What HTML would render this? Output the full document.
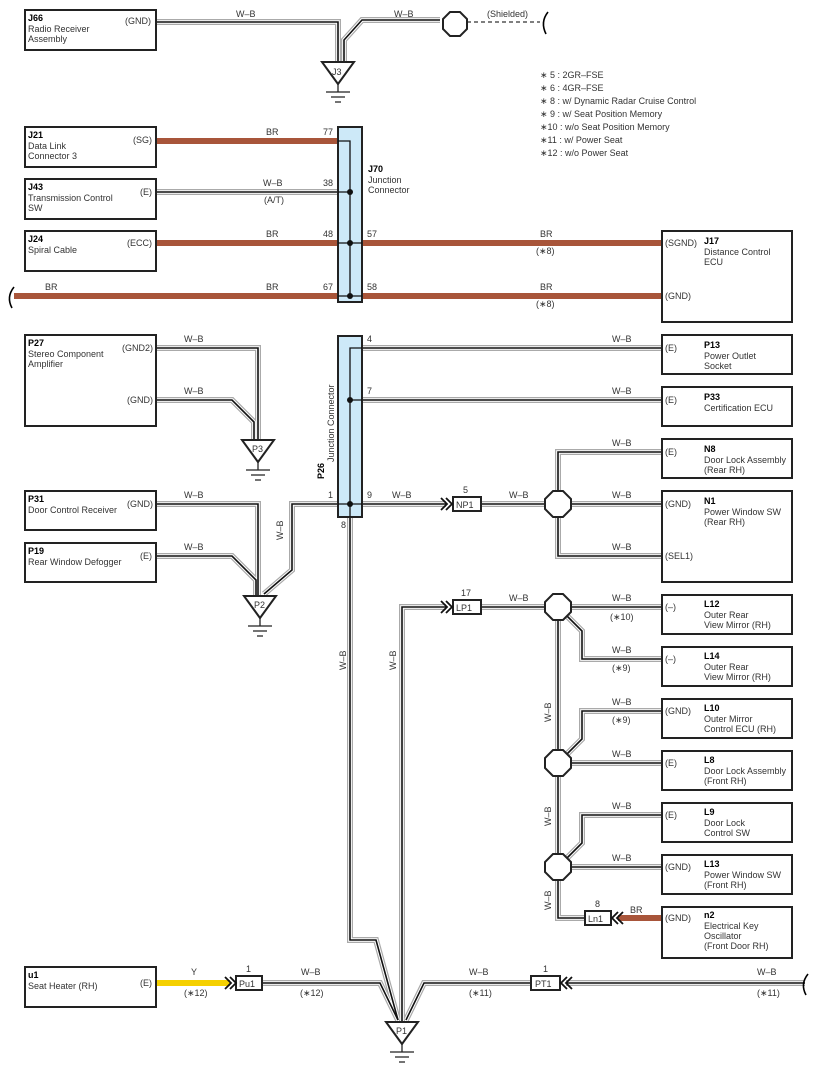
<!DOCTYPE html>
<html><head><meta charset="utf-8"><style>
html,body{margin:0;padding:0;background:#fff}
svg{display:block}
text{font-family:"Liberation Sans",sans-serif;font-size:9px;fill:#333}
.b{font-weight:bold;fill:#000}
.box{fill:#fff;stroke:#222;stroke-width:2}
</style></head><body>
<svg width="818" height="1076" viewBox="0 0 818 1076" xmlns="http://www.w3.org/2000/svg">
<defs>
<g id="wb" fill="none">
<path d="M155,22 H338 V62"/>
<path d="M440,20 H362 L344,40 V62"/>
<path d="M155,192 H338"/>
<path d="M362,348 H662"/>
<path d="M362,400 H662"/>
<path d="M362,504 H446 M481,504 H545 M571,504 H662"/>
<path d="M558,491 V452 H662 M558,517 V556 H662"/>
<path d="M155,348 H258 V440"/>
<path d="M155,400 H232 L254,422 V440"/>
<path d="M155,504 H258 V596"/>
<path d="M155,556 H232 L256,580 V596"/>
<path d="M338,504 H292 V570 L264,594"/>
<path d="M350,517 V940 H376 L398,1020"/>
<path d="M446,607 H402 V1022"/>
<path d="M481,607 H545 M571,607 H662"/>
<path d="M567,616 L582,631 V659 H662"/>
<path d="M558,620 V750 M558,776 V854 M558,880 V918 H585"/>
<path d="M567,754 L582,739 V711 H662 M571,763 H662"/>
<path d="M567,858 L582,843 V815 H662 M571,867 H662"/>
<path d="M262,983 H380 L398,1020"/>
<path d="M530,983 H424 L406,1020"/>
<path d="M566,983 H805"/>
</g>
</defs>
<use href="#wb" stroke="#aaa" stroke-width="6"/>
<use href="#wb" stroke="#fff" stroke-width="3.6"/>
<use href="#wb" stroke="#111" stroke-width="1.6"/>

<g stroke="#a8553a" stroke-width="6" fill="none">
<path d="M157,141 H338"/>
<path d="M157,243 H662"/>
<path d="M14,296 H662"/>
<path d="M618,918 H662"/>
</g>
<path d="M157,983 H230" stroke="#f5d000" stroke-width="6"/>
<g fill="none" stroke="#000" stroke-width="1.6">
<path d="M548,12 Q540,22 546,34"/>
<path d="M14,287 Q6,297 12,308"/>
<path d="M808,974 Q800,984 806,995"/>
</g>
<path d="M467,22 H540" stroke="#333" stroke-dasharray="4,3" stroke-width="1.2"/>
<text x="487" y="17">(Shielded)</text>

<g fill="#fff" stroke="#222" stroke-width="2">
<polygon points="450,12 460,12 467,19 467,29 460,36 450,36 443,29 443,19"/>
<polygon points="553,491 563,491 571,499 571,509 563,517 553,517 545,509 545,499"/>
<polygon points="553,594 563,594 571,602 571,612 563,620 553,620 545,612 545,602"/>
<polygon points="553,750 563,750 571,758 571,768 563,776 553,776 545,768 545,758"/>
<polygon points="553,854 563,854 571,862 571,872 563,880 553,880 545,872 545,862"/>
</g>

<g fill="#fff" stroke="#222" stroke-width="2">
<polygon points="322,62 354,62 338,84"/>
<polygon points="242,440 274,440 258,462"/>
<polygon points="244,596 276,596 260,618"/>
<polygon points="386,1022 418,1022 402,1044"/>
</g>
<g stroke="#222" stroke-width="1.3">
<path d="M338,84 V92 M326,92 H350 M331,97 H345 M335,102 H341"/>
<path d="M258,462 V470 M246,470 H270 M251,475 H265 M255,480 H261"/>
<path d="M260,618 V626 M248,626 H272 M253,631 H267 M257,636 H263"/>
<path d="M402,1044 V1052 M390,1052 H414 M395,1057 H409 M399,1062 H405"/>
</g>
<text x="332" y="75">J3</text><text x="252" y="452">P3</text><text x="254" y="608">P2</text><text x="396" y="1034">P1</text>

<rect x="338" y="127" width="24" height="175" fill="#cde9f8" stroke="#222" stroke-width="2"/>
<path d="M338,141 H350 V296 M338,192 H350 M338,243 H362 M338,296 H362" stroke="#111" stroke-width="1.3" fill="none"/>
<g fill="#111"><circle cx="350" cy="192" r="3"/><circle cx="350" cy="243" r="3"/><circle cx="350" cy="296" r="3"/></g>
<rect x="338" y="336" width="24" height="181" fill="#cde9f8" stroke="#222" stroke-width="2"/>
<path d="M362,348 H350 V517 M350,400 H362 M338,504 H362" stroke="#111" stroke-width="1.3" fill="none"/>
<g fill="#111"><circle cx="350" cy="400" r="3"/><circle cx="350" cy="504" r="3"/></g>

<g class="box" fill="#fff" stroke="#222" stroke-width="2">
<rect x="453" y="497" width="28" height="14"/>
<rect x="453" y="600" width="28" height="14"/>
<rect x="585" y="911" width="26" height="14"/>
<rect x="236" y="976" width="26" height="14"/>
<rect x="531" y="976" width="29" height="14"/>
</g>
<g fill="none" stroke="#111" stroke-width="1.8">
<path d="M441,498 L447,504 L441,510 M446,498 L452,504 L446,510"/>
<path d="M441,601 L447,607 L441,613 M446,601 L452,607 L446,613"/>
<path d="M618,912 L612,918 L618,924 M623,912 L617,918 L623,924"/>
<path d="M225,977 L231,983 L225,989 M230,977 L236,983 L230,989"/>
<path d="M567,977 L561,983 L567,989 M572,977 L566,983 L572,989"/>
</g>
<text x="456" y="508">NP1</text><text x="463" y="493">5</text>
<text x="456" y="611">LP1</text><text x="461" y="596">17</text>
<text x="588" y="922">Ln1</text><text x="595" y="907">8</text>
<text x="239" y="987">Pu1</text><text x="246" y="972">1</text>
<text x="535" y="987">PT1</text><text x="543" y="972">1</text>

<g class="box">
<rect x="25" y="10" width="131" height="40"/>
<rect x="25" y="127" width="131" height="40"/>
<rect x="25" y="179" width="131" height="40"/>
<rect x="25" y="231" width="131" height="40"/>
<rect x="662" y="231" width="130" height="91"/>
<rect x="25" y="335" width="131" height="91"/>
<rect x="25" y="491" width="131" height="39"/>
<rect x="25" y="543" width="131" height="39"/>
<rect x="662" y="335" width="130" height="39"/>
<rect x="662" y="387" width="130" height="39"/>
<rect x="662" y="439" width="130" height="39"/>
<rect x="662" y="491" width="130" height="91"/>
<rect x="662" y="595" width="130" height="39"/>
<rect x="662" y="647" width="130" height="39"/>
<rect x="662" y="699" width="130" height="39"/>
<rect x="662" y="751" width="130" height="39"/>
<rect x="662" y="803" width="130" height="39"/>
<rect x="662" y="855" width="130" height="39"/>
<rect x="662" y="907" width="130" height="51"/>
<rect x="25" y="967" width="131" height="40"/>
</g>

<text x="28" y="21" class="b">J66</text><text x="28" y="32">Radio Receiver</text><text x="28" y="42">Assembly</text><text x="125" y="24">(GND)</text>
<text x="28" y="138" class="b">J21</text><text x="28" y="149">Data Link</text><text x="28" y="159">Connector 3</text><text x="133" y="143">(SG)</text>
<text x="28" y="190" class="b">J43</text><text x="28" y="201">Transmission Control</text><text x="28" y="211">SW</text><text x="140" y="195">(E)</text>
<text x="28" y="242" class="b">J24</text><text x="28" y="253">Spiral Cable</text><text x="127" y="246">(ECC)</text>
<text x="28" y="346" class="b">P27</text><text x="28" y="357">Stereo Component</text><text x="28" y="367">Amplifier</text><text x="122" y="351">(GND2)</text><text x="127" y="403">(GND)</text>
<text x="28" y="502" class="b">P31</text><text x="28" y="513">Door Control Receiver</text><text x="127" y="507">(GND)</text>
<text x="28" y="554" class="b">P19</text><text x="28" y="565">Rear Window Defogger</text><text x="140" y="559">(E)</text>
<text x="28" y="978" class="b">u1</text><text x="28" y="989">Seat Heater (RH)</text><text x="140" y="986">(E)</text>

<text x="665" y="246">(SGND)</text><text x="704" y="244" class="b">J17</text><text x="704" y="255">Distance Control</text><text x="704" y="265">ECU</text><text x="665" y="299">(GND)</text>
<text x="665" y="351">(E)</text><text x="704" y="348" class="b">P13</text><text x="704" y="359">Power Outlet</text><text x="704" y="369">Socket</text>
<text x="665" y="403">(E)</text><text x="704" y="400" class="b">P33</text><text x="704" y="411">Certification ECU</text>
<text x="665" y="455">(E)</text><text x="704" y="452" class="b">N8</text><text x="704" y="463">Door Lock Assembly</text><text x="704" y="473">(Rear RH)</text>
<text x="665" y="507">(GND)</text><text x="704" y="504" class="b">N1</text><text x="704" y="515">Power Window SW</text><text x="704" y="525">(Rear RH)</text><text x="665" y="559">(SEL1)</text>
<text x="665" y="610">(–)</text><text x="704" y="607" class="b">L12</text><text x="704" y="618">Outer Rear</text><text x="704" y="628">View Mirror (RH)</text>
<text x="665" y="662">(–)</text><text x="704" y="659" class="b">L14</text><text x="704" y="670">Outer Rear</text><text x="704" y="680">View Mirror (RH)</text>
<text x="665" y="714">(GND)</text><text x="704" y="711" class="b">L10</text><text x="704" y="722">Outer Mirror</text><text x="704" y="732">Control ECU (RH)</text>
<text x="665" y="766">(E)</text><text x="704" y="763" class="b">L8</text><text x="704" y="774">Door Lock Assembly</text><text x="704" y="784">(Front RH)</text>
<text x="665" y="818">(E)</text><text x="704" y="815" class="b">L9</text><text x="704" y="826">Door Lock</text><text x="704" y="836">Control SW</text>
<text x="665" y="870">(GND)</text><text x="704" y="867" class="b">L13</text><text x="704" y="878">Power Window SW</text><text x="704" y="888">(Front RH)</text>
<text x="665" y="921">(GND)</text><text x="704" y="918" class="b">n2</text><text x="704" y="929">Electrical Key</text><text x="704" y="939">Oscillator</text><text x="704" y="949">(Front Door RH)</text>

<text x="368" y="172" class="b">J70</text><text x="368" y="183">Junction</text><text x="368" y="193">Connector</text>
<text transform="translate(334,462) rotate(-90)">Junction Connector</text>
<text transform="translate(324,479) rotate(-90)" class="b">P26</text>

<text x="323" y="135">77</text><text x="323" y="186">38</text><text x="323" y="237">48</text><text x="323" y="290">67</text>
<text x="367" y="237">57</text><text x="367" y="290">58</text>
<text x="367" y="342">4</text><text x="367" y="394">7</text><text x="367" y="498">9</text><text x="328" y="498">1</text><text x="341" y="528">8</text>

<text x="236" y="17">W–B</text><text x="394" y="17">W–B</text>
<text x="266" y="135">BR</text><text x="263" y="186">W–B</text><text x="264" y="203">(A/T)</text>
<text x="266" y="237">BR</text><text x="266" y="290">BR</text><text x="45" y="290">BR</text>
<text x="540" y="237">BR</text><text x="536" y="254">(∗8)</text><text x="540" y="290">BR</text><text x="536" y="307">(∗8)</text>
<text x="184" y="342">W–B</text><text x="184" y="394">W–B</text><text x="184" y="498">W–B</text><text x="184" y="550">W–B</text>
<text transform="translate(283,540) rotate(-90)">W–B</text>
<text x="612" y="342">W–B</text><text x="612" y="394">W–B</text><text x="612" y="446">W–B</text><text x="612" y="498">W–B</text><text x="612" y="550">W–B</text>
<text x="392" y="498">W–B</text><text x="509" y="498">W–B</text><text x="509" y="601">W–B</text>
<text x="612" y="601">W–B</text><text x="610" y="620">(∗10)</text>
<text x="612" y="653">W–B</text><text x="612" y="671">(∗9)</text>
<text x="612" y="705">W–B</text><text x="612" y="723">(∗9)</text>
<text x="612" y="757">W–B</text><text x="612" y="809">W–B</text><text x="612" y="861">W–B</text>
<text x="630" y="913">BR</text>
<text transform="translate(551,722) rotate(-90)">W–B</text>
<text transform="translate(551,826) rotate(-90)">W–B</text>
<text transform="translate(551,910) rotate(-90)">W–B</text>
<text transform="translate(346,670) rotate(-90)">W–B</text>
<text transform="translate(396,670) rotate(-90)">W–B</text>
<text x="191" y="975">Y</text><text x="184" y="996">(∗12)</text>
<text x="301" y="975">W–B</text><text x="300" y="996">(∗12)</text>
<text x="469" y="975">W–B</text><text x="469" y="996">(∗11)</text>
<text x="757" y="975">W–B</text><text x="757" y="996">(∗11)</text>

<text x="540" y="78">∗ 5 : 2GR–FSE</text>
<text x="540" y="91">∗ 6 : 4GR–FSE</text>
<text x="540" y="104">∗ 8 : w/ Dynamic Radar Cruise Control</text>
<text x="540" y="117">∗ 9 : w/ Seat Position Memory</text>
<text x="540" y="130">∗10 : w/o Seat Position Memory</text>
<text x="540" y="143">∗11 : w/ Power Seat</text>
<text x="540" y="156">∗12 : w/o Power Seat</text>
</svg>
</body></html>
